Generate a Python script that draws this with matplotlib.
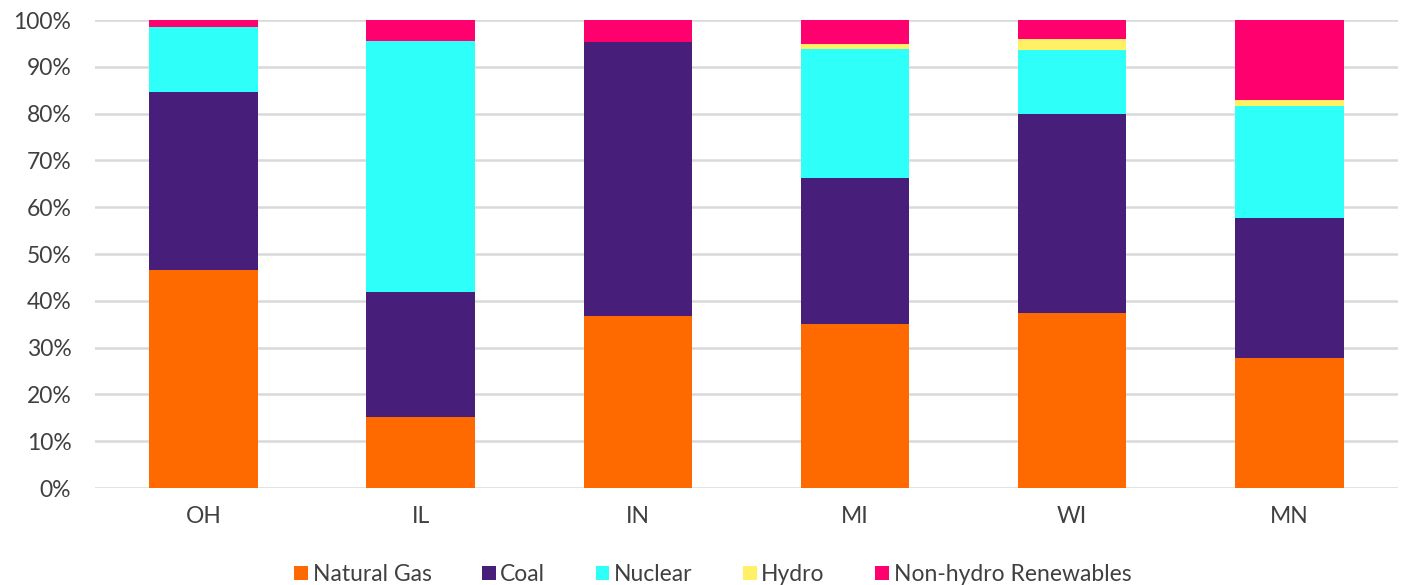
import numpy as np
import matplotlib
matplotlib.use('Agg')
import matplotlib.pyplot as plt
from matplotlib.ticker import FuncFormatter

# Generation mix by state (% of total)
states = ['OH', 'IL', 'IN', 'MI', 'WI', 'MN']
natural_gas = [46.6, 15.2, 36.8, 35.0, 37.4, 27.8]
coal = [38.0, 26.7, 58.6, 31.2, 42.5, 29.9]
nuclear = [13.8, 53.6, 0.0, 27.5, 13.7, 24.0]
hydro = [0.0, 0.0, 0.0, 1.2, 2.3, 1.2]
renewables = [1.6, 4.5, 4.6, 5.1, 4.1, 17.1]

series = [
    ('Natural Gas', natural_gas, '#FF6A00'),
    ('Coal', coal, '#471F7B'),
    ('Nuclear', nuclear, '#2EFFF8'),
    ('Hydro', hydro, '#FFF066'),
    ('Non-hydro Renewables', renewables, '#FF006E'),
]

plt.rcParams['font.family'] = ['Lato', 'DejaVu Sans']

fig = plt.figure(figsize=(14.03, 5.85), dpi=100)
ax = fig.add_axes([0.0677, 0.1658, 0.9287, 0.8])

x = np.arange(len(states))
bottom = np.zeros(len(states))
for name, vals, color in series:
    ax.bar(x, vals, width=0.5, bottom=bottom, color=color, label=name, zorder=3)
    bottom += np.array(vals)

ax.set_xlim(-0.5, len(states) - 0.5)
ax.set_ylim(0, 100)
ax.set_yticks(range(0, 101, 10))
ax.yaxis.set_major_formatter(FuncFormatter(lambda v, p: f'{v:.0f}%'))
ax.set_xticks(x)
ax.set_xticklabels(states)

ax.grid(axis='y', color='#D9D9D9', linewidth=1.8, zorder=0)
ax.set_axisbelow(True)
for s in ax.spines.values():
    s.set_visible(False)
ax.tick_params(axis='both', length=0, labelsize=16.5, colors='#404040')
ax.tick_params(axis='y', pad=17)
ax.tick_params(axis='x', pad=13)

fig.legend(loc='center', bbox_to_anchor=(0.508, 0.018), ncol=5, frameon=False,
           fontsize=16.5, handlelength=0.6, handleheight=0.6, handletextpad=0.2,
           columnspacing=2.2, labelcolor='#404040')

fig.savefig('out.png', dpi=100)
